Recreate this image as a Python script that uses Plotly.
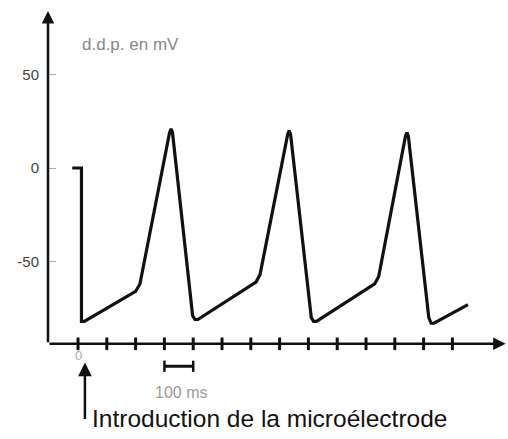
import plotly.graph_objects as go

# Membrane potential trace (time in ms, potential in mV)
time_ms = [-20, 12, 12, 22, 200, 215, 318, 323, 328, 398, 406, 416,
           618, 632, 728, 733, 738, 810, 818, 828,
           1030, 1044, 1137, 1142, 1147, 1218, 1226, 1236, 1354]
potential_mv = [0, 0, -82, -82, -66, -62, 19, 21, 19, -79, -81, -81,
                -61, -57, 18, 20, 18, -80, -82, -82,
                -62, -58, 17, 19, 17, -80, -83, -83, -73]

x_ticks_ms = [0, 100, 200, 300, 400, 500, 600, 700, 800, 900, 1000, 1100, 1200, 1300]
y_tick_vals = [50, 0, -50]
y_tick_text = ["50", "0", "-50"]
scale_bar_ms = [300, 400]

X0, X1 = -104.2, 1493.0
Y0, Y1 = -144.9, 84.5
AXIS_Y = -94

fig = go.Figure()
fig.add_trace(go.Scatter(x=time_ms, y=potential_mv, mode="lines",
                         line=dict(color="#111", width=3.2),
                         hoverinfo="skip", showlegend=False))
# x-axis tick marks
fig.add_trace(go.Scatter(x=x_ticks_ms, y=[AXIS_Y] * len(x_ticks_ms), mode="markers",
                         marker=dict(symbol="line-ns", size=9,
                                     line=dict(color="#111", width=3)),
                         hoverinfo="skip", showlegend=False))

# x axis line with arrow
fig.add_annotation(x=X1 - 8, y=AXIS_Y, ax=X0, ay=AXIS_Y, xref="x", yref="y",
                   axref="x", ayref="y", text="", showarrow=True,
                   arrowhead=2, arrowsize=1, arrowwidth=2.5, arrowcolor="#111")
# y axis line with arrow
fig.add_annotation(x=X0, y=Y1 - 0.5, ax=X0, ay=AXIS_Y, xref="x", yref="y",
                   axref="x", ayref="y", text="", showarrow=True,
                   arrowhead=2, arrowsize=1, arrowwidth=2.5, arrowcolor="#111")

# 100 ms scale bar
fig.add_shape(type="line", x0=scale_bar_ms[0], x1=scale_bar_ms[1], y0=-106, y1=-106,
              line=dict(color="#111", width=3))
for xb in scale_bar_ms:
    fig.add_shape(type="line", x0=xb, x1=xb, y0=-103, y1=-109,
                  line=dict(color="#111", width=2.5))
fig.add_annotation(x=(scale_bar_ms[0] + scale_bar_ms[1]) / 2 + 8, y=-120, text="100 ms",
                   showarrow=False, font=dict(size=16, color="#999"))

# origin label and arrow
fig.add_annotation(x=0, y=-100, text="0", showarrow=False,
                   font=dict(size=13, color="#aaa"))
fig.add_annotation(x=24, y=-104, ax=24, ay=-135, xref="x", yref="y",
                   axref="x", ayref="y", text="", showarrow=True,
                   arrowhead=2, arrowsize=1.1, arrowwidth=2.5, arrowcolor="#111")

fig.add_annotation(x=42, y=-133.7, text="Introduction de la microélectrode",
                   xanchor="left", showarrow=False,
                   font=dict(size=24.5, color="#111"))

fig.add_annotation(x=7, y=66, text="d.d.p. en mV", xanchor="left", showarrow=False,
                   font=dict(size=17, color="#888"))

fig.update_layout(
    width=508, height=439,
    margin=dict(l=48, r=0, t=10, b=0),
    paper_bgcolor="white", plot_bgcolor="white",
    font=dict(family="Liberation Sans, Arial, sans-serif"),
    xaxis=dict(range=[X0, X1], visible=False, fixedrange=True),
    yaxis=dict(range=[Y0, Y1], tickvals=y_tick_vals, ticktext=y_tick_text,
               showgrid=False, zeroline=False, showline=False,
               ticks="inside", ticklen=8, tickcolor="#aaa", tickwidth=1,
               ticklabelstandoff=8,
               tickfont=dict(size=15, color="#444"), fixedrange=True),
)

fig.write_html("out.html", config={"displayModeBar": False},
               post_script="document.body.style.margin='0';")
